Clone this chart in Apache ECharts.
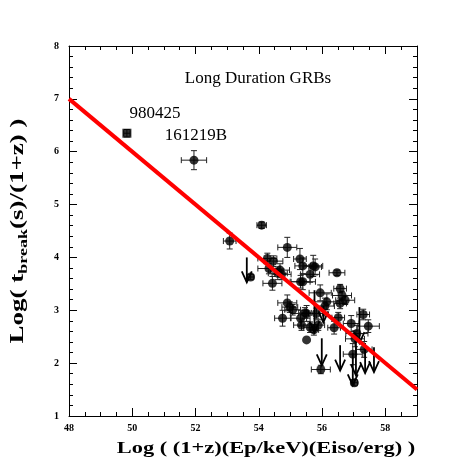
<!DOCTYPE html>
<html>
<head>
<meta charset="utf-8">
<script src="https://cdn.jsdelivr.net/npm/echarts@6/dist/echarts.min.js"></script>
<style>
  html, body { margin: 0; padding: 0; background: #fff; }
  #chart { width: 463px; height: 463px; }
</style>
</head>
<body>
<div id="chart"></div>
<script>
// detections: x, y and their errors
const ptX = [53.08, 54.09, 54.90, 54.27, 54.46, 55.30, 54.32, 54.67, 54.72, 55.39,
  55.72, 55.62, 56.47, 55.39, 55.32, 54.43, 53.74, 56.57, 56.63, 56.73,
  56.57, 55.94, 56.15, 56.09, 54.90, 54.98, 55.07, 55.51, 54.75, 55.32,
  55.35, 55.62, 55.88, 55.51, 56.51, 56.38, 56.92, 57.30, 57.46, 57.10,
  57.04, 56.97, 57.33, 55.96, 57.02, 55.74, 55.46, 55.82, 55.78, 54.60];
const ptY = [4.31, 4.61, 4.19, 3.98, 3.93, 3.97, 3.79, 3.76, 3.68, 3.84,
  3.84, 3.68, 3.71, 3.54, 3.54, 3.51, 3.63, 3.41, 3.28, 3.19,
  3.13, 3.33, 3.16, 3.08, 3.14, 3.06, 3.01, 2.94, 2.85, 2.85,
  2.72, 2.68, 2.72, 2.44, 2.86, 2.67, 2.75, 2.92, 2.70, 2.56,
  2.46, 2.17, 2.26, 1.88, 1.63, 2.63, 2.95, 2.94, 3.82, 3.70];
const ptXErr = [0.2, 0.15, 0.3, 0.3, 0.3, 0.2, 0.35, 0.3, 0.3, 0.25,
  0.3, 0.3, 0.25, 0.4, 0.3, 0.3, 0.1, 0.2, 0.3, 0.3,
  0.2, 0.35, 0.4, 0.3, 0.3, 0.25, 0.25, 0.5, 0.25, 0.3,
  0.25, 0.2, 0.2, 0, 0.2, 0.2, 0.25, 0.2, 0.35, 0.35,
  0.3, 0.3, 0.25, 0.3, 0.1, 0.15, 0.2, 0.25, 0.2, 0.3];
const ptYErr = [0.15, 0.06, 0.19, 0.1, 0.1, 0.2, 0.1, 0.12, 0.1, 0.15,
  0.2, 0.15, 0.05, 0.15, 0.12, 0.13, 0.05, 0.08, 0.08, 0.08,
  0.1, 0.15, 0.15, 0.15, 0.15, 0.1, 0.1, 0.15, 0.15, 0.15,
  0.1, 0.1, 0.1, 0, 0.1, 0.12, 0.15, 0.1, 0.12, 0.15,
  0.15, 0.2, 0.15, 0.08, 0.06, 0.1, 0.1, 0.1, 0.15, 0.12];

// 161219B
const grbX = [51.95];
const grbY = [5.84];
const grbXErr = [0.4];
const grbYErr = [0.18];

// 980425 (square)
const sqX = [49.83];
const sqY = [6.35];
const sqXErr = [0.1];
const sqYErr = [0.07];

// upper limits: x, top, arrow tip
const limX = [53.62, 55.76, 56.04, 55.99, 56.57, 57.18, 57.07, 56.97, 57.36, 57.64];
const limTop = [4.00, 3.38, 3.09, 2.47, 2.34, 3.06, 2.43, 2.19, 2.38, 2.30];
const limTip = [3.53, 2.58, 2.77, 1.96, 1.86, 2.38, 1.77, 1.58, 1.81, 1.83];

// fit line
const fitX = [48, 59];
const fitY = [7, 1.5];

const xTicks = [48, 50, 52, 54, 56, 58];
const yTicks = [1, 2, 3, 4, 5, 6, 7, 8];

const serif = 'Liberation Serif, Times New Roman, serif';

function errItem(params, api) {
  const x = api.value(0), y = api.value(1), ex = api.value(2), ey = api.value(3);
  const l = api.coord([x - ex, y]), r = api.coord([x + ex, y]);
  const t = api.coord([x, y + ey]), b = api.coord([x, y - ey]);
  const st = { stroke: '#222', lineWidth: 1 };
  const cap = 3;
  const kids = [];
  if (ex > 0) {
    kids.push({ type: 'line', shape: { x1: l[0], y1: l[1], x2: r[0], y2: r[1] }, style: st });
    kids.push({ type: 'line', shape: { x1: l[0], y1: l[1] - cap, x2: l[0], y2: l[1] + cap }, style: st });
    kids.push({ type: 'line', shape: { x1: r[0], y1: r[1] - cap, x2: r[0], y2: r[1] + cap }, style: st });
  }
  if (ey > 0) {
    kids.push({ type: 'line', shape: { x1: t[0], y1: t[1], x2: b[0], y2: b[1] }, style: st });
    kids.push({ type: 'line', shape: { x1: t[0] - cap, y1: t[1], x2: t[0] + cap, y2: t[1] }, style: st });
    kids.push({ type: 'line', shape: { x1: b[0] - cap, y1: b[1], x2: b[0] + cap, y2: b[1] }, style: st });
  }
  return { type: 'group', children: kids };
}

function arrowItem(params, api) {
  const top = api.coord([api.value(0), api.value(1)]);
  const tip = api.coord([api.value(0), api.value(2)]);
  const st = { stroke: '#000', lineWidth: 1.8, fill: 'none' };
  return {
    type: 'group',
    children: [
      { type: 'line', shape: { x1: top[0], y1: top[1], x2: tip[0], y2: tip[1] }, style: st },
      { type: 'polyline', shape: { points: [[tip[0] - 5, tip[1] - 11], [tip[0], tip[1]], [tip[0] + 5, tip[1] - 11]] }, style: st }
    ]
  };
}

const errData = ptX.map((x, i) => [x, ptY[i], ptXErr[i], ptYErr[i]])
  .concat(grbX.map((x, i) => [x, grbY[i], grbXErr[i], grbYErr[i]]))
  .concat(sqX.map((x, i) => [x, sqY[i], sqXErr[i], sqYErr[i]]));

const chart = echarts.init(document.getElementById('chart'));

const tickLabel = { fontFamily: serif, fontWeight: 'bold', fontSize: 10, color: '#000' };

chart.setOption({
  animation: false,
  backgroundColor: '#fff',
  grid: { left: 69, right: 46, top: 46, bottom: 47, outerBoundsMode: 'none', containLabel: false },
  xAxis: [
    {
      type: 'value', min: 48, max: 59, interval: 2,
      axisLine: { lineStyle: { color: '#000', width: 1 } },
      axisTick: { inside: true, length: 8, lineStyle: { color: '#000' } },
      minorTick: { show: true, splitNumber: 4, length: 4, lineStyle: { color: '#000' } },
      splitLine: { show: false },
      axisLabel: Object.assign({ margin: 7, showMaxLabel: false,
        formatter: v => xTicks.indexOf(v) >= 0 ? String(v) : '' }, tickLabel)
    },
    {
      type: 'value', min: 48, max: 59, interval: 2, position: 'top',
      axisLine: { show: true, lineStyle: { color: '#000' } },
      axisTick: { inside: true, length: 8, lineStyle: { color: '#000' } },
      minorTick: { show: true, splitNumber: 4, length: 4, lineStyle: { color: '#000' } },
      splitLine: { show: false }, axisLabel: { show: false }
    }
  ],
  yAxis: [
    {
      type: 'value', min: 1, max: 8, interval: 1,
      axisLine: { show: true, lineStyle: { color: '#000' } },
      axisTick: { show: true, inside: true, length: 8, lineStyle: { color: '#000' } },
      minorTick: { show: true, splitNumber: 5, length: 4, lineStyle: { color: '#000' } },
      splitLine: { show: false },
      axisLabel: Object.assign({ margin: 10,
        formatter: v => yTicks.indexOf(v) >= 0 ? String(v) : '' }, tickLabel)
    },
    {
      type: 'value', min: 1, max: 8, interval: 1, position: 'right',
      axisLine: { show: true, lineStyle: { color: '#000' } },
      axisTick: { show: true, inside: true, length: 8, lineStyle: { color: '#000' } },
      minorTick: { show: true, splitNumber: 5, length: 4, lineStyle: { color: '#000' } },
      splitLine: { show: false }, axisLabel: { show: false }
    }
  ],
  graphic: [
    {
      type: 'text', x: 18, y: 231, rotation: Math.PI / 2, scaleX: 1.5,
      style: {
        text: '{m|Log( t}{s|break}{m|(s)/(1+z) )}',
        align: 'center', verticalAlign: 'middle',
        rich: {
          m: { fontFamily: serif, fontWeight: 'bold', fontSize: 18, fill: '#000', lineHeight: 24 },
          s: { fontFamily: serif, fontWeight: 'bold', fontSize: 12, fill: '#000', verticalAlign: 'bottom', lineHeight: 16 }
        }
      }
    },
    {
      type: 'text', x: 266, y: 449, scaleX: 1.4,
      style: { text: 'Log ( (1+z)(Ep/keV)(Eiso/erg) )', font: 'bold 16px ' + serif, fill: '#000', align: 'center', verticalAlign: 'middle' }
    },
    { type: 'text', x: 258, y: 79, style: { text: 'Long Duration GRBs', font: '17px ' + serif, fill: '#000', align: 'center', verticalAlign: 'middle' } },
    { type: 'text', x: 155, y: 114, style: { text: '980425', font: '17px ' + serif, fill: '#000', align: 'center', verticalAlign: 'middle' } },
    { type: 'text', x: 196, y: 136, style: { text: '161219B', font: '17px ' + serif, fill: '#000', align: 'center', verticalAlign: 'middle' } }
  ],
  series: [
    {
      type: 'custom', renderItem: errItem, data: errData, z: 2,
      encode: { x: 0, y: 1 }, clip: true
    },
    {
      type: 'scatter', data: ptX.map((x, i) => [x, ptY[i]]).concat(grbX.map((x, i) => [x, grbY[i]])),
      symbol: 'circle', symbolSize: 9, itemStyle: { color: '#000' }, z: 3
    },
    {
      type: 'scatter', data: sqX.map((x, i) => [x, sqY[i]]),
      symbol: 'rect', symbolSize: 9, itemStyle: { color: '#000' }, z: 3
    },
    {
      type: 'custom', renderItem: arrowItem, z: 3,
      data: limX.map((x, i) => [x, limTop[i], limTip[i]]),
      encode: { x: 0, y: [1, 2] }
    },
    {
      type: 'line', data: fitX.map((x, i) => [x, fitY[i]]),
      showSymbol: false, lineStyle: { color: '#ff0000', width: 4 }, z: 4
    }
  ]
});
</script>
</body>
</html>
